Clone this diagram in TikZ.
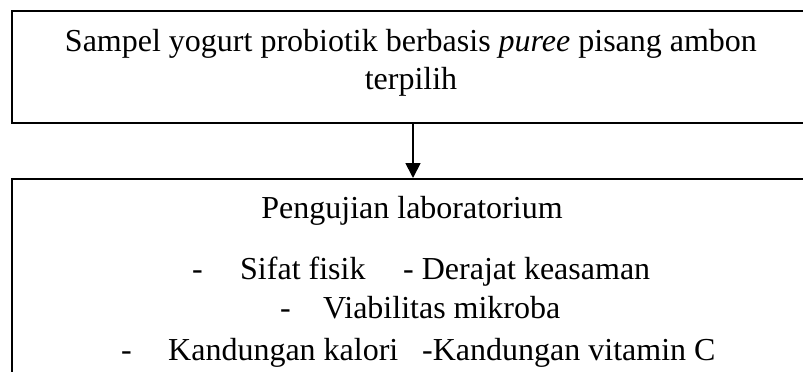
\documentclass[tikz,border=0pt]{standalone}
\usepackage{fontspec}
\setmainfont{Liberation Serif}
\usetikzlibrary{arrows.meta}
\begin{document}
\begin{tikzpicture}[x=1pt,y=-1pt,
  framebox/.style={draw=black, line width=1.6pt, rectangle, inner sep=0pt, anchor=north west},
  txt/.style={inner sep=0pt, font=\fontsize{32}{38}\selectfont},
  flowarrow/.style={line width=1.8pt, -{Triangle[length=15pt,width=15pt]}}]
  \useasboundingbox (0,0) rectangle (803,372);
  % boxes
  \node[framebox, minimum width=820pt, minimum height=112pt] (sample) at (11,10) {};
  \node[framebox, minimum width=820pt, minimum height=240pt] (lab) at (11,178) {};
  % upper box text
  \node[txt, anchor=base] (t1) at (411,51) {Sampel yogurt probiotik berbasis \textit{puree} pisang ambon};
  \node[txt, anchor=base] (t2) at (411,89) {terpilih};
  % lower box text
  \node[txt, anchor=base] (l0) at (412,218) {Pengujian laboratorium};
  \node[txt, anchor=base west] (d1) at (192,279) {-};
  \node[txt, anchor=base west] (i1) at (240,279) {Sifat fisik};
  \node[txt, anchor=base west] (i2) at (403,279) {- Derajat keasaman};
  \node[txt, anchor=base west] (d3) at (280,318) {-};
  \node[txt, anchor=base west] (i3) at (323,318) {Viabilitas mikroba};
  \node[txt, anchor=base west] (d4) at (121,360) {-};
  \node[txt, anchor=base west] (i4) at (168,360) {Kandungan kalori};
  \node[txt, anchor=base west] (i5) at (422,360) {-Kandungan vitamin C};
  % connector
  \coordinate (ax) at (413,0);
  \draw[flowarrow] (sample.south -| ax) -- (lab.north -| ax);
\end{tikzpicture}
\end{document}
